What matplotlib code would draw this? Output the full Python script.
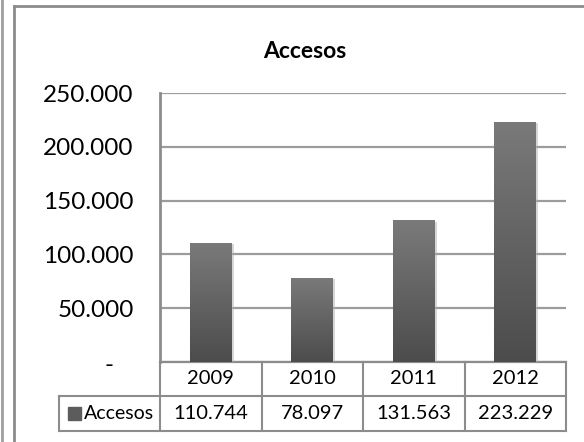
import numpy as np
import matplotlib.pyplot as plt
import matplotlib.patheffects as pe
from matplotlib.lines import Line2D
from matplotlib.patches import Rectangle
from matplotlib.transforms import blended_transform_factory

# data
years = ['2009', '2010', '2011', '2012']
accesos = [110744, 78097, 131563, 223229]
yticks = [0, 50000, 100000, 150000, 200000, 250000]
series_name = 'Accesos'
title = 'Accesos'


def fmt(v):
    # spanish thousands separator
    return f'{v:,.0f}'.replace(',', '.')


W, H = 584, 442
plt.rcParams['font.family'] = ['Lato', 'DejaVu Sans']
fig = plt.figure(figsize=(W / 100, H / 100), dpi=100)
fig.patch.set_facecolor('white')

# plot area in pixels: x 160..566, y 93..362
ax = fig.add_axes([160 / W, 1 - 362 / H, 406 / W, 269 / H])
x = np.arange(len(years))
bars = ax.bar(x, accesos, width=0.41, color='none', zorder=3,
              path_effects=[pe.SimplePatchShadow(offset=(1.5, -1.0),
                                                 shadow_rgbFace='#b0b0b0',
                                                 alpha=0.5)])

# vertical gradient inside each bar
grad = np.linspace(0, 1, 256).reshape(-1, 1)
cmap = plt.matplotlib.colors.LinearSegmentedColormap.from_list(
    'g', ['#4c4c4c', '#7a7a7a'])
for b in bars:
    x0, w, h = b.get_x(), b.get_width(), b.get_height()
    im = ax.imshow(grad, cmap=cmap, aspect='auto', origin='lower',
                   extent=[x0, x0 + w, 0, h], zorder=4)
    im.set_clip_path(b)
ax.set_xlim(-0.5, len(years) - 0.5)
ax.set_ylim(0, 250000)

ax.set_yticks(yticks)
ax.set_yticklabels([fmt(v) if v > 0 else '' for v in yticks])
ax.tick_params(axis='y', length=0, pad=19, labelsize=17.5)
ax.set_xticks([])
ax.yaxis.grid(True, color='#9c9c9c', lw=1.6)
ax.set_axisbelow(True)
for s in ['top', 'right']:
    ax.spines[s].set_visible(False)
ax.spines['left'].set_color('#8c8c8c')
ax.spines['left'].set_linewidth(2)
ax.spines['bottom'].set_color('#8c8c8c')
ax.spines['bottom'].set_linewidth(1.6)
ax.text((114 - 160) / 406, -4 / 269, '-', transform=ax.transAxes,
        ha='right', va='center', fontsize=17.5)

# data table under the plot
r1 = -34 / 269
r2 = -69 / 269
leg_left = (59 - 160) / 406
tr = blended_transform_factory(ax.transData, ax.transAxes)
lc = '#8c8c8c'
lw = 1.5
for xb in np.arange(len(years) + 1) - 0.5:
    ax.add_line(Line2D([xb, xb], [0, r2], transform=tr, color=lc, lw=lw,
                       clip_on=False))
for yb in [r1, r2]:
    ax.add_line(Line2D([leg_left, 1], [yb, yb], transform=ax.transAxes,
                       color=lc, lw=lw, clip_on=False))
ax.add_line(Line2D([leg_left, leg_left], [r1, r2], transform=ax.transAxes,
                   color=lc, lw=lw, clip_on=False))

for i, (yr, v) in enumerate(zip(years, accesos)):
    ax.text(i, r1 / 2, yr, transform=tr, ha='center', va='center',
            fontsize=14.5, clip_on=False)
    ax.text(i, (r1 + r2) / 2, fmt(v), transform=tr, ha='center',
            va='center', fontsize=14.5, clip_on=False)

# legend key in the table
ym = (r1 + r2) / 2
ax.add_patch(Rectangle(((68 - 160) / 406, ym - 6.5 / 269), 13 / 406,
                       13 / 269, transform=ax.transAxes, color='#5c5c5c',
                       clip_on=False))
ax.text((84 - 160) / 406, ym, series_name, transform=ax.transAxes,
        ha='left', va='center', fontsize=14, clip_on=False)

# title
fig.text(305 / W, 1 - 51 / H, title, ha='center', va='center',
         fontsize=16.5, fontweight='bold')

# chart border and page edge
fig.add_artist(Line2D([14 / W, 14 / W], [0, 1 - 6 / H],
                      transform=fig.transFigure, color='#8c8c8c', lw=2))
fig.add_artist(Line2D([14 / W, 1], [1 - 6 / H, 1 - 6 / H],
                      transform=fig.transFigure, color='#8c8c8c', lw=2))
fig.add_artist(Line2D([1.5 / W, 1.5 / W], [0, 1],
                      transform=fig.transFigure, color='#a0a0a0', lw=2))

fig.savefig('out.png', dpi=100)
